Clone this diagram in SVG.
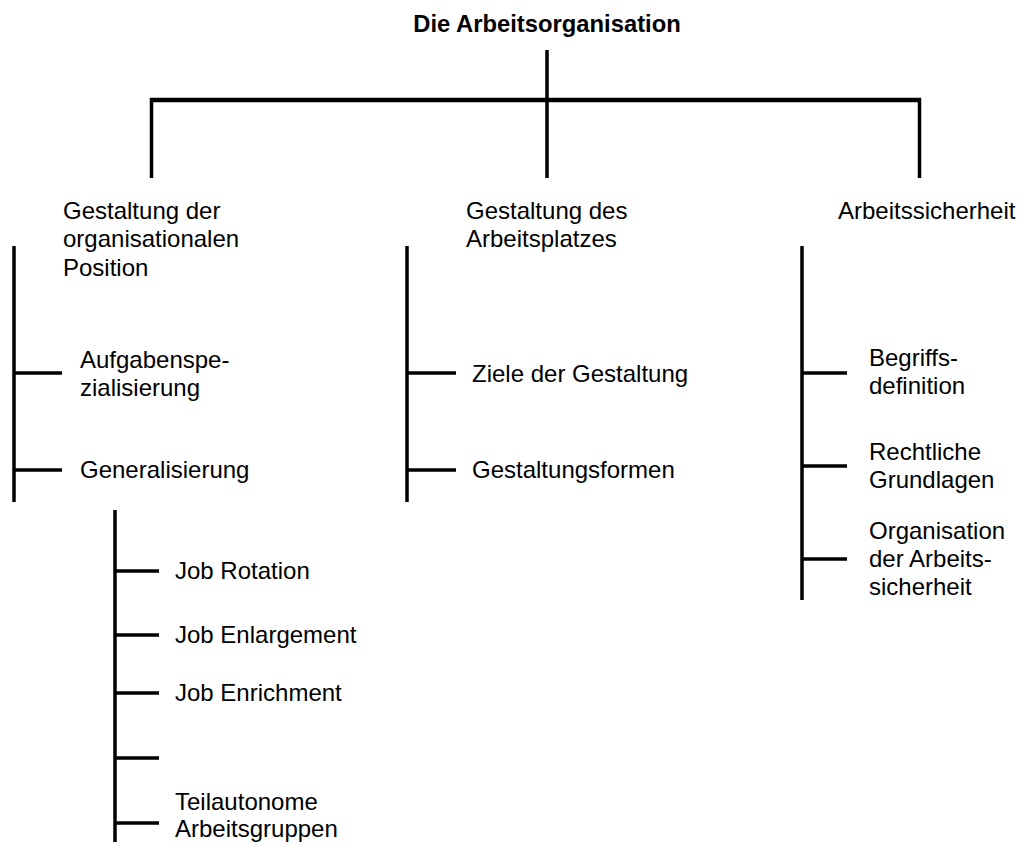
<svg xmlns="http://www.w3.org/2000/svg" width="1022" height="845" viewBox="0 0 1022 845">
<style>
.t{font-family:"Liberation Sans",Arial,sans-serif;font-size:24px;fill:#000}
.title{font-family:"Liberation Sans",Arial,sans-serif;font-size:23.8px;font-weight:bold;fill:#000}
.ln{stroke:#000;stroke-width:3.5;fill:none;stroke-linecap:butt}
.bar{stroke:#000;stroke-width:4.5;fill:none}
</style>
<rect width="1022" height="845" fill="#fff"/>
<g id="connectors">
<line class="ln" x1="547" y1="50" x2="547" y2="178"/>
<line class="bar" x1="150" y1="100" x2="921" y2="100"/>
<line class="ln" x1="151.5" y1="98" x2="151.5" y2="178"/>
<line class="ln" x1="919.5" y1="98" x2="919.5" y2="178"/>
<line class="ln" x1="14" y1="246" x2="14" y2="502"/>
<line class="ln" x1="14" y1="373" x2="62" y2="373"/>
<line class="ln" x1="14" y1="470" x2="62" y2="470"/>
<line class="ln" x1="115" y1="510" x2="115" y2="842"/>
<line class="ln" x1="115" y1="571" x2="159" y2="571"/>
<line class="ln" x1="115" y1="635" x2="159" y2="635"/>
<line class="ln" x1="115" y1="693" x2="159" y2="693"/>
<line class="ln" x1="115" y1="758" x2="159" y2="758"/>
<line class="ln" x1="115" y1="823" x2="159" y2="823"/>
<line class="ln" x1="407" y1="246" x2="407" y2="502"/>
<line class="ln" x1="407" y1="373" x2="456" y2="373"/>
<line class="ln" x1="407" y1="470" x2="456" y2="470"/>
<line class="ln" x1="802" y1="246" x2="802" y2="600"/>
<line class="ln" x1="802" y1="373" x2="847" y2="373"/>
<line class="ln" x1="802" y1="466" x2="847" y2="466"/>
<line class="ln" x1="802" y1="559" x2="847" y2="559"/>
</g>
<g id="root"><text class="title" x="547" y="32" text-anchor="middle">Die Arbeitsorganisation</text></g>
<g id="position"><text class="t" x="63" y="219">Gestaltung der</text><text class="t" x="63" y="247">organisationalen</text><text class="t" x="63" y="276">Position</text></g>
<g id="arbeitsplatz"><text class="t" x="466" y="219">Gestaltung des</text><text class="t" x="466" y="247">Arbeitsplatzes</text></g>
<g id="sicherheit"><text class="t" x="838" y="219">Arbeitssicherheit</text></g>
<g id="aufgaben"><text class="t" x="80" y="368">Aufgabenspe-</text><text class="t" x="80" y="396">zialisierung</text></g>
<g id="general"><text class="t" x="80" y="478">Generalisierung</text></g>
<g id="rotation"><text class="t" x="175" y="579">Job Rotation</text></g>
<g id="enlarge"><text class="t" x="175" y="643">Job Enlargement</text></g>
<g id="enrich"><text class="t" x="175" y="701">Job Enrichment</text></g>
<g id="teilauto"><text class="t" x="175" y="810">Teilautonome</text><text class="t" x="175" y="837">Arbeitsgruppen</text></g>
<g id="ziele"><text class="t" x="472" y="382">Ziele der Gestaltung</text></g>
<g id="formen"><text class="t" x="472" y="478">Gestaltungsformen</text></g>
<g id="begriff"><text class="t" x="869" y="366">Begriffs-</text><text class="t" x="869" y="394">definition</text></g>
<g id="recht"><text class="t" x="869" y="460">Rechtliche</text><text class="t" x="869" y="488">Grundlagen</text></g>
<g id="orga"><text class="t" x="869" y="539">Organisation</text><text class="t" x="869" y="567">der Arbeits-</text><text class="t" x="869" y="595">sicherheit</text></g>
</svg>
